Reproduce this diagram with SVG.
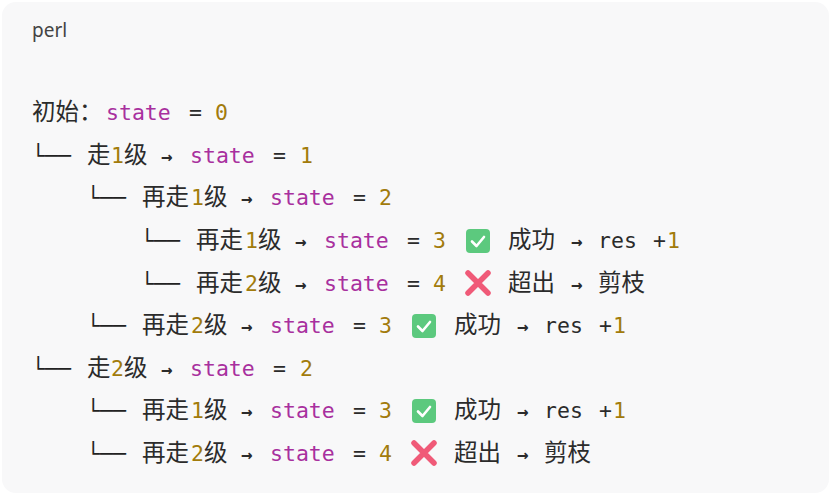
<svg xmlns="http://www.w3.org/2000/svg" width="831" height="495" viewBox="0 0 831 495">
<style>
t,text{font-family:"DejaVu Sans Mono","Noto Sans CJK SC",monospace;font-size:21.5px;fill:#2b2b2b}
.c{font-family:"Noto Sans CJK SC",sans-serif;font-size:23.5px}
.k{fill:#a8309e}.n{fill:#a27b0c}.tr{fill:#222}
.a{font-size:19px;font-weight:bold}
</style>
<defs>
<g id="ok"><rect x="0" y="-11" width="24" height="24" rx="4" fill="#5cc97e"/><path d="M6 1.5 L10.5 6 L18 -3" fill="none" stroke="#fff" stroke-width="2.6" stroke-linecap="round" stroke-linejoin="round"/></g>
<g id="no"><path d="M2 -10 L22 10 M22 -10 L2 10" stroke="#f05a78" stroke-width="5.5" stroke-linecap="round"/></g>
</defs>
<rect x="0" y="0" width="831" height="495" fill="#ffffff"/>
<rect x="2" y="2" width="827" height="491" rx="14" fill="#f8f8f9"/>
<text x="32" y="37" style="font-family:'Noto Sans',sans-serif;font-size:19px;fill:#444">perl</text>
<g id="row1"><text y="120"><tspan x="32" class="c">初始：</tspan><tspan x="106" class="k">state</tspan><tspan x="189">=</tspan><tspan x="215" class="n">0</tspan></text></g>
<g id="row2"><text y="163"><tspan x="32" class="tr">└──</tspan><tspan x="87" class="c">走</tspan><tspan x="111" class="n">1</tspan><tspan x="124" class="c">级</tspan><tspan x="161" class="a">→</tspan><tspan x="190" class="k">state</tspan><tspan x="273">=</tspan><tspan x="300" class="n">1</tspan></text></g>
<g id="row3"><text y="205"><tspan x="87" class="tr">└──</tspan><tspan x="142" class="c">再走</tspan><tspan x="191" class="n">1</tspan><tspan x="204" class="c">级</tspan><tspan x="241" class="a">→</tspan><tspan x="270" class="k">state</tspan><tspan x="353">=</tspan><tspan x="379" class="n">2</tspan></text></g>
<g id="row4"><text y="248"><tspan x="141" class="tr">└──</tspan><tspan x="196" class="c">再走</tspan><tspan x="245" class="n">1</tspan><tspan x="258" class="c">级</tspan><tspan x="295" class="a">→</tspan><tspan x="324" class="k">state</tspan><tspan x="407">=</tspan><tspan x="433" class="n">3</tspan><tspan x="508" class="c">成功</tspan><tspan x="571" class="a">→</tspan><tspan x="598">res</tspan><tspan x="653">+</tspan><tspan x="667" class="n">1</tspan></text><use href="#ok" x="466" y="240"/></g>
<g id="row5"><text y="291"><tspan x="141" class="tr">└──</tspan><tspan x="196" class="c">再走</tspan><tspan x="245" class="n">2</tspan><tspan x="258" class="c">级</tspan><tspan x="295" class="a">→</tspan><tspan x="324" class="k">state</tspan><tspan x="407">=</tspan><tspan x="433" class="n">4</tspan><tspan x="508" class="c">超出</tspan><tspan x="571" class="a">→</tspan><tspan x="598" class="c">剪枝</tspan></text><use href="#no" x="466" y="283"/></g>
<g id="row6"><text y="333"><tspan x="87" class="tr">└──</tspan><tspan x="142" class="c">再走</tspan><tspan x="191" class="n">2</tspan><tspan x="204" class="c">级</tspan><tspan x="241" class="a">→</tspan><tspan x="270" class="k">state</tspan><tspan x="353">=</tspan><tspan x="379" class="n">3</tspan><tspan x="454" class="c">成功</tspan><tspan x="517" class="a">→</tspan><tspan x="544">res</tspan><tspan x="599">+</tspan><tspan x="613" class="n">1</tspan></text><use href="#ok" x="412" y="325"/></g>
<g id="row7"><text y="376"><tspan x="32" class="tr">└──</tspan><tspan x="87" class="c">走</tspan><tspan x="111" class="n">2</tspan><tspan x="124" class="c">级</tspan><tspan x="161" class="a">→</tspan><tspan x="190" class="k">state</tspan><tspan x="273">=</tspan><tspan x="300" class="n">2</tspan></text></g>
<g id="row8"><text y="418"><tspan x="87" class="tr">└──</tspan><tspan x="142" class="c">再走</tspan><tspan x="191" class="n">1</tspan><tspan x="204" class="c">级</tspan><tspan x="241" class="a">→</tspan><tspan x="270" class="k">state</tspan><tspan x="353">=</tspan><tspan x="379" class="n">3</tspan><tspan x="454" class="c">成功</tspan><tspan x="517" class="a">→</tspan><tspan x="544">res</tspan><tspan x="599">+</tspan><tspan x="613" class="n">1</tspan></text><use href="#ok" x="412" y="410"/></g>
<g id="row9"><text y="461"><tspan x="87" class="tr">└──</tspan><tspan x="142" class="c">再走</tspan><tspan x="191" class="n">2</tspan><tspan x="204" class="c">级</tspan><tspan x="241" class="a">→</tspan><tspan x="270" class="k">state</tspan><tspan x="353">=</tspan><tspan x="379" class="n">4</tspan><tspan x="454" class="c">超出</tspan><tspan x="517" class="a">→</tspan><tspan x="544" class="c">剪枝</tspan></text><use href="#no" x="412" y="453"/></g>
<g id="connectors"/>
</svg>
